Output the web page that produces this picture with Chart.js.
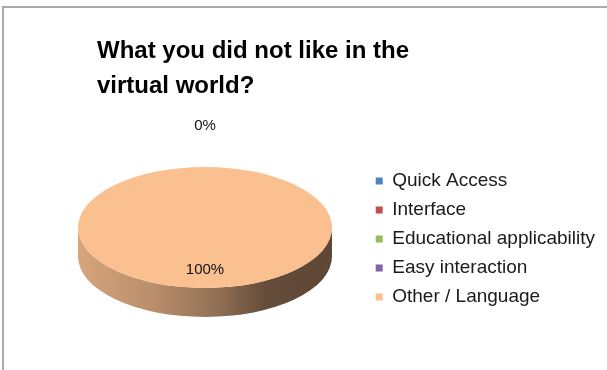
<!DOCTYPE html>
<html>
<head>
<meta charset="utf-8">
<title>What you did not like in the virtual world?</title>
<script src="https://cdn.jsdelivr.net/npm/chart.js@4/dist/chart.umd.min.js"></script>
<style>
  body { margin: 0; background: #fff; }
  #wrap { position: relative; width: 607px; height: 370px; overflow: hidden; }
  /* sheet frame, only its top and left edges fall inside the window */
  #frame { position: absolute; left: 2px; top: 6px; right: -10px; bottom: -10px;
           border-left: 2px solid #a9a9a9; border-top: 2px solid #a9a9a9; }
  canvas { position: absolute; left: 0; top: 0; }
</style>
</head>
<body>
<div id="wrap">
  <div id="frame"></div>
  <canvas id="pieChart" width="607" height="370"></canvas>
</div>
<script>
const titleLines = ['What you did not like in the', 'virtual world?'];
const categories = ['Quick Access', 'Interface', 'Educational applicability', 'Easy interaction', 'Other / Language'];
const answers = [0, 0, 0, 0, 100];
const sliceColors = ['#4f81bd', '#c0504d', '#9bbb59', '#8064a2', '#fac090'];

// Where the flattened disc sits on the page
const disc = { cx: 205, cy: 227.5, rx: 127, ry: 60.5, depth: 29 };

// Darken a hex colour by a factor
const shade = (hex, f) => {
  const n = parseInt(hex.slice(1), 16);
  const r = Math.round(((n >> 16) & 255) * f);
  const g = Math.round(((n >> 8) & 255) * f);
  const b = Math.round((n & 255) * f);
  return `rgb(${r}, ${g}, ${b})`;
};

// Tilts the pie: side wall first, then the arcs squashed into an ellipse
const pie3d = {
  id: 'pie3d',
  beforeDatasetsDraw(chart) {
    const ctx = chart.ctx;
    const arcs = chart.getDatasetMeta(0).data;
    const { cx, cy, rx, ry, depth } = disc;

    arcs.forEach((arc, i) => {
      // only the front half of the wall can be seen
      const s = Math.max(arc.startAngle, 0);
      const e = Math.min(arc.endAngle, Math.PI);
      if (e <= s) return;
      const base = sliceColors[i];
      const grad = ctx.createLinearGradient(cx - rx, 0, cx + rx, 0);
      grad.addColorStop(0, shade(base, 0.86));
      grad.addColorStop(0.3, shade(base, 0.74));
      grad.addColorStop(0.55, shade(base, 0.58));
      grad.addColorStop(0.74, shade(base, 0.4));
      grad.addColorStop(1, shade(base, 0.37));
      ctx.beginPath();
      ctx.ellipse(cx, cy, rx, ry, 0, s, e);
      ctx.ellipse(cx, cy + depth, rx, ry, 0, e, s, true);
      ctx.closePath();
      ctx.fillStyle = grad;
      ctx.fill();
    });

    const { x, y, outerRadius } = arcs[0];
    ctx.save();
    ctx.translate(cx, cy);
    ctx.scale(rx / outerRadius, ry / outerRadius);
    ctx.translate(-x, -y);
  },
  afterDatasetsDraw(chart) {
    const ctx = chart.ctx;
    ctx.restore();

    const arcs = chart.getDatasetMeta(0).data;
    const total = answers.reduce((sum, v) => sum + v, 0);
    const { cx, cy, rx, ry } = disc;
    const drawn = new Set();

    ctx.save();
    ctx.font = '15px "Liberation Sans", Arial, sans-serif';
    ctx.fillStyle = '#111';
    ctx.textAlign = 'center';
    ctx.textBaseline = 'middle';
    arcs.forEach((arc, i) => {
      const mid = (arc.startAngle + arc.endAngle) / 2;
      let lx, ly;
      if (answers[i] > 0) {
        lx = cx + rx * 0.7 * Math.cos(mid);
        ly = cy + ry * 0.7 * Math.sin(mid);
      } else {
        // empty slices get their label outside the rim
        lx = cx + (rx + 41) * Math.cos(mid);
        ly = cy + (ry + 41) * Math.sin(mid);
      }
      const text = Math.round(answers[i] / total * 100) + '%';
      const key = `${Math.round(lx)},${Math.round(ly)},${text}`;
      if (drawn.has(key)) return;
      drawn.add(key);
      ctx.fillText(text, lx, ly);
    });
    ctx.restore();
  }
};

const ctx = document.getElementById('pieChart').getContext('2d');

new Chart(ctx, {
  type: 'pie',
  data: {
    labels: categories,
    datasets: [{
      data: answers,
      backgroundColor: sliceColors,
      borderWidth: 0,
      hoverOffset: 0,
      clip: false
    }]
  },
  options: {
    responsive: false,
    animation: false,
    events: [],
    devicePixelRatio: 1,
    layout: {
      padding: { left: 97, top: 0, right: 2, bottom: 2 }
    },
    plugins: {
      title: {
        display: true,
        text: titleLines,
        align: 'start',
        color: '#000',
        font: { family: '"Liberation Sans", Arial, sans-serif', size: 24, weight: 'bold', lineHeight: 1.46 },
        padding: { top: 34, bottom: 6 }
      },
      legend: {
        position: 'right',
        fullSize: false,
        labels: {
          boxWidth: 7,
          boxHeight: 7,
          padding: 10,
          color: '#1a1a1a',
          font: { family: '"Liberation Sans", Arial, sans-serif', size: 19 }
        }
      },
      tooltip: { enabled: false }
    }
  },
  plugins: [pie3d]
});
</script>
</body>
</html>
